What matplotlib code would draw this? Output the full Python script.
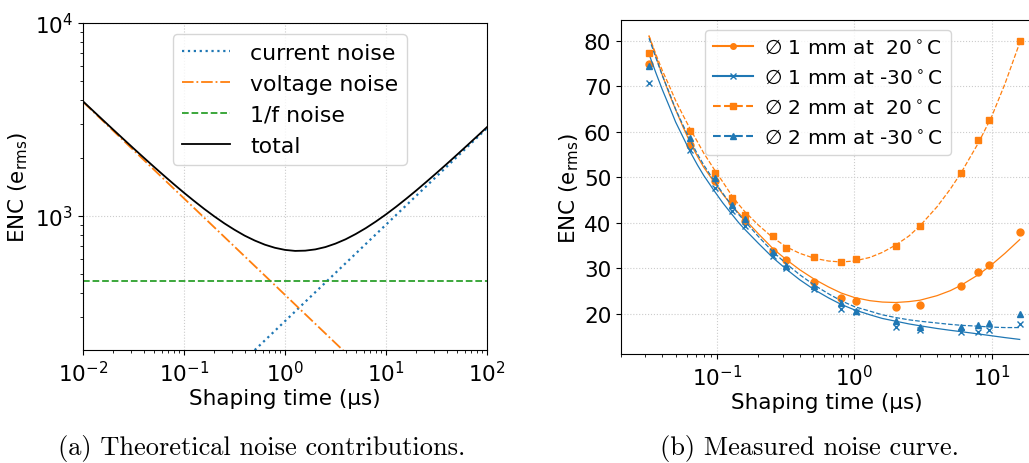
import numpy as np
import matplotlib
matplotlib.use("Agg")
import matplotlib.pyplot as plt
from matplotlib.lines import Line2D

# ==========================================
# DATA (a) - theoretical contributions
# ==========================================
tau_lines = [0.01, 100]
current_noise = [28.5, 2850]
voltage_noise = [3900, 39]
oneoverf_noise = [460, 460]

tau_total = [0.01, 0.012589, 0.015849, 0.019953, 0.025119, 0.031623, 0.039811,
             0.050119, 0.063096, 0.079433, 0.1, 0.12589, 0.15849, 0.19953,
             0.25119, 0.31623, 0.39811, 0.50119, 0.63096, 0.79433, 1.0,
             1.2589, 1.5849, 1.9953, 2.5119, 3.1623, 3.9811, 5.0119, 6.3096,
             7.9433, 10.0, 12.589, 15.849, 19.953, 25.119, 31.623, 39.811,
             50.119, 63.096, 79.433, 100.0]
total_noise = [3927, 3506, 3132, 2799, 2504, 2241, 2009, 1803, 1621, 1460,
               1319, 1196, 1088, 995, 915, 848, 791, 746, 710, 684, 667,
               659, 661, 671, 690, 719, 757, 806, 865, 936, 1019, 1116,
               1228, 1356, 1503, 1669, 1857, 2070, 2311, 2582, 2887]

# ==========================================
# DATA (b) - measured
# ==========================================
tau_meas = [0.032, 0.064, 0.096, 0.128, 0.16, 0.256, 0.32, 0.512, 0.8, 1.024,
            2.0, 3.0, 6.0, 8.0, 9.6, 16.0]
enc_1mm_20 = [74.9, 57.0, 49.1, 44.6, 40.3, 33.8, 31.9, 27.0, 23.5, 22.8,
              21.5, 22.0, 26.1, 29.3, 30.8, 37.9]
enc_1mm_m30 = [70.7, 55.9, 47.7, 42.6, 39.2, 32.6, 30.0, 25.5, 21.1, 20.4,
               17.1, 16.5, 16.0, 16.1, 16.5, 17.8]
enc_2mm_20 = [77.2, 60.1, 51.0, 45.4, 41.6, 37.1, 34.4, 32.4, 31.4, 32.0,
              34.9, 39.3, 51.0, 58.1, 62.6, 80.0]
enc_2mm_m30 = [74.4, 58.6, 49.9, 44.0, 40.9, 33.5, 30.6, 26.2, 22.4, 20.7,
               18.4, 17.1, 17.1, 17.6, 18.0, 20.0]

tau_fit = [0.032, 0.036, 0.04, 0.045, 0.05, 0.057, 0.064, 0.072, 0.08, 0.096,
           0.11, 0.128, 0.145, 0.16, 0.2, 0.256, 0.32, 0.4, 0.512, 0.65, 0.8,
           1.0, 1.3, 1.6, 2.0, 2.5, 3.0, 4.0, 5.0, 6.0, 8.0, 10.0, 12.5, 16.0]
fit_1mm_20 = [81.0, 76.4, 72.4, 68.2, 64.8, 60.8, 57.5, 54.6, 52.2, 48.8,
              46.3, 43.8, 42.0, 40.7, 37.6, 34.3, 31.9, 29.7, 27.6, 25.9, 24.6,
              23.6, 22.9, 22.6, 22.5, 22.7, 23.0, 24.0, 25.1, 26.3, 28.6, 30.8,
              33.3, 36.3]
fit_1mm_m30 = [77.0, 72.8, 69.2, 65.5, 62.1, 58.6, 55.5, 52.7, 50.4, 46.9,
               44.4, 41.9, 39.9, 38.5, 35.5, 32.3, 29.8, 27.5, 25.3, 23.5, 22.1,
               20.9, 19.8, 19.0, 18.4, 17.8, 17.4, 16.8, 16.4, 16.1, 15.6, 15.2,
               14.8, 14.4]
fit_2mm_20 = [81.0, 76.9, 73.4, 70.0, 66.8, 63.4, 60.5, 57.8, 55.3, 51.6,
              49.0, 46.0, 43.9, 42.4, 39.5, 36.7, 34.7, 33.3, 32.2, 31.6, 31.4,
              31.6, 32.4, 33.5, 35.1, 37.1, 39.3, 43.5, 47.4, 51.0, 57.5, 63.3,
              70.5, 79.5]
fit_2mm_m30 = [80.5, 76.1, 72.3, 68.5, 64.9, 61.2, 58.0, 55.1, 52.7, 49.1,
               46.5, 43.8, 41.7, 40.3, 37.0, 33.6, 31.0, 28.6, 26.3, 24.4, 22.9,
               21.6, 20.6, 19.8, 19.2, 18.7, 18.4, 18.0, 17.7, 17.5, 17.3, 17.1,
               17.0, 17.0]

labels_b = [r"$\varnothing$ 1 mm at  20$^\circ$C",
            r"$\varnothing$ 1 mm at -30$^\circ$C",
            r"$\varnothing$ 2 mm at  20$^\circ$C",
            r"$\varnothing$ 2 mm at -30$^\circ$C"]

plt.rcParams['font.size'] = 15.5

W, H = 1029, 464
fig = plt.figure(figsize=(W / 100, H / 100), dpi=100)

def box(x0, y0, x1, y1):
    return [x0 / W, 1 - y1 / H, (x1 - x0) / W, (y1 - y0) / H]

# ==========================================
# PLOT (a)
# ==========================================
ax1 = fig.add_axes(box(83, 24, 487, 351))
ax1.plot(tau_lines, current_noise, ':', color='C0', lw=1.6, label="current noise")
ax1.plot(tau_lines, voltage_noise, '-.', color='C1', lw=1.3, label="voltage noise")
ax1.plot(tau_lines, oneoverf_noise, '--', color='C2', lw=1.3, label="1/f noise")
ax1.plot(tau_total, total_noise, '-', color='black', lw=1.3, label="total")
ax1.set_xscale('log')
ax1.set_yscale('log')
ax1.set_xlim(1e-2, 1e2)
ax1.set_ylim(202, 1e4)
ax1.set_xlabel("Shaping time (µs)", labelpad=2)
ax1.set_ylabel(r"ENC (e$_\mathrm{rms}$)")
ax1.grid(True, which='major', linestyle=':', color='#cccccc', lw=0.8)
ax1.legend(loc='upper left', bbox_to_anchor=(0.223, 0.966), borderaxespad=0,
           handlelength=2.2, labelspacing=0.5, handletextpad=0.9,
           fontsize=15.8)

# ==========================================
# PLOT (b)
# ==========================================
ax2 = fig.add_axes(box(621, 21, 1033, 355))
colors = ['C1', 'C0', 'C1', 'C0']
markers = ['o', 'x', 's', '^']
styles = ['-', '-', '--', '--']
meas = [enc_1mm_20, enc_1mm_m30, enc_2mm_20, enc_2mm_m30]
fits = [fit_1mm_20, fit_1mm_m30, fit_2mm_20, fit_2mm_m30]
sizes = [5, 4, 5, 5]

handles = []
for m, f, c, mk, ls, ms, lab in zip(meas, fits, colors, markers, styles, sizes, labels_b):
    ax2.plot(tau_fit, f, ls, color=c, lw=0.9)
    ax2.plot(tau_meas, m, mk, color=c, ms=ms, mew=1.0, linestyle='none')
    handles.append(Line2D([], [], color=c, ls=ls, lw=1.5, marker=mk, ms=4, label=lab))

ax2.set_xscale('log')
ax2.set_xlim(0.02, 20)
ax2.set_ylim(11.2, 84.5)
ax2.set_yticks([20, 30, 40, 50, 60, 70, 80])
ax2.set_xlabel("Shaping time (µs)", labelpad=2)
ax2.set_ylabel(r"ENC (e$_\mathrm{rms}$)", labelpad=2)
ax2.grid(True, which='major', linestyle=':', color='#cccccc', lw=0.8)
ax2.legend(handles=handles, loc='upper left', bbox_to_anchor=(0.204, 0.970),
           borderaxespad=0, handlelength=2.0, labelspacing=0.55,
           handletextpad=0.55, numpoints=1, fontsize=14.5)

# ==========================================
# CAPTIONS
# ==========================================
fig.text(262 / W, 1 - 449 / H, "(a) Theoretical noise contributions.",
         ha='center', va='center', fontsize=19, family='cmr10')
fig.text(809 / W, 1 - 449 / H, "(b) Measured noise curve.",
         ha='center', va='center', fontsize=19, family='cmr10')

fig.savefig("out.png", dpi=100)
